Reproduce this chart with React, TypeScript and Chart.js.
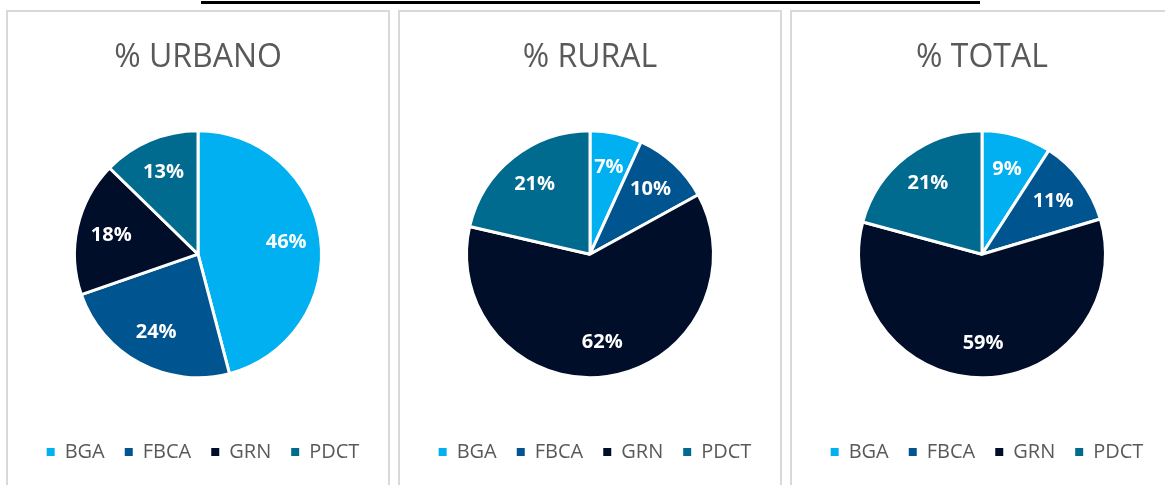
import React, { useEffect, useRef } from "react";
import { Chart, registerables } from "chart.js";

Chart.register(...registerables);

const categories = ["BGA", "FBCA", "GRN", "PDCT"];
const urbanoValues = [45.9, 23.8, 17.6, 12.7];
const ruralValues = [6.8, 10.2, 61.6, 21.4];
const totalValues = [9.1, 11.3, 58.8, 20.8];
const panelTitles = ["% URBANO", "% RURAL", "% TOTAL"];
const sliceColors = ["#00B0F0", "#00548F", "#000E2A", "#006B8F"];

const FONT = "'Open Sans', 'Noto Sans', sans-serif";

const labelPlugin = {
  id: "sliceLabels",
  afterLayout(chart: any) {
    if (chart.legend) {
      chart.legend.left += 5;
      chart.legend.right += 5;
    }
  },
  afterDatasetsDraw(chart: any) {
    const ctx = chart.ctx;
    const meta = chart.getDatasetMeta(0);
    const values = chart.data.datasets[0].data as number[];
    ctx.save();
    ctx.font = `bold 20px ${FONT}`;
    ctx.fillStyle = "#ffffff";
    ctx.textAlign = "center";
    ctx.textBaseline = "middle";
    meta.data.forEach((arc: any, i: number) => {
      const { x, y, startAngle, endAngle, outerRadius } = arc.getProps(
        ["x", "y", "startAngle", "endAngle", "outerRadius"],
        true
      );
      const mid = (startAngle + endAngle) / 2;
      const r = outerRadius * 0.72;
      ctx.fillText(Math.round(values[i]) + "%", x + Math.cos(mid) * r, y + Math.sin(mid) * r);
    });
    ctx.restore();
  },
};

function PiePanel({ title, values, left }: { title: string; values: number[]; left: number }) {
  const ref = useRef<HTMLCanvasElement | null>(null);
  useEffect(() => {
    if (!ref.current) return;
    const chart = new Chart(ref.current, {
      type: "pie",
      data: {
        labels: categories,
        datasets: [
          {
            data: values,
            backgroundColor: sliceColors,
            borderColor: "#ffffff",
            borderWidth: 3,
          },
        ],
      },
      options: {
        animation: false,
        responsive: true,
        maintainAspectRatio: false,
        events: [],
        radius: 123.5,
        layout: { padding: { top: 0, bottom: 13, left: 0, right: 0 } },
        plugins: {
          title: {
            display: true,
            text: title,
            color: "#595959",
            font: { family: FONT, size: 32, weight: "normal" },
            padding: { top: 27, bottom: 9 },
          },
          legend: {
            display: true,
            position: "bottom",
            labels: {
              boxWidth: 8,
              boxHeight: 8,
              padding: 20,
              color: "#595959",
              font: { family: FONT, size: 20 },
              generateLabels: (ch: any) =>
                (ch.data.labels as string[]).map((text, i) => ({
                  text,
                  fillStyle: sliceColors[i],
                  strokeStyle: sliceColors[i],
                  lineWidth: 0,
                  fontColor: "#595959",
                  hidden: false,
                  index: i,
                })),
            },
          },
          tooltip: { enabled: false },
        },
      } as any,
      plugins: [labelPlugin],
    });
    return () => chart.destroy();
  }, [title, values]);

  return (
    <div
      style={{
        position: "absolute",
        left,
        top: 10,
        width: 384,
        height: 490,
        boxSizing: "border-box",
        border: "2px solid #d9d9d9",
        background: "#ffffff",
      }}
    >
      <div style={{ position: "relative", width: 380, height: 473 }}>
        <canvas ref={ref} />
      </div>
    </div>
  );
}

export default function App() {
  const datasets = [urbanoValues, ruralValues, totalValues];
  return (
    <div
      style={{
        position: "fixed",
        left: 0,
        top: 0,
        width: 1165,
        height: 485,
        overflow: "hidden",
        background: "#ffffff",
      }}
    >
      <div style={{ position: "absolute", left: 201, top: 1, width: 779, height: 3, background: "#000" }} />
      {panelTitles.map((t, i) => (
        <PiePanel key={t} title={t} values={datasets[i]} left={6 + i * 392} />
      ))}
    </div>
  );
}
